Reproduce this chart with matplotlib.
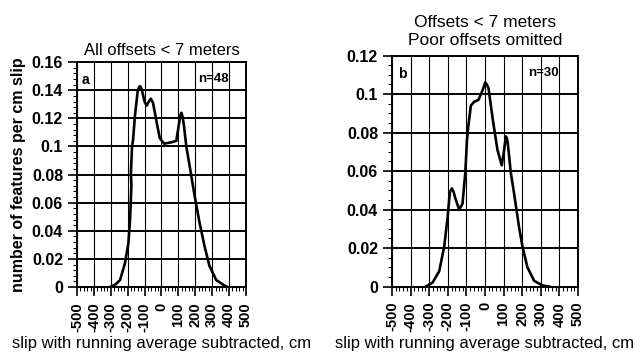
import matplotlib
matplotlib.use("Agg")
import matplotlib.pyplot as plt
from matplotlib.ticker import MultipleLocator, FormatStrFormatter

plt.rcParams["font.family"] = ["Liberation Sans", "DejaVu Sans"]

# Panel a: all offsets < 7 meters
slip_a = [-304, -270, -245, -216, -196, -186, -178, -181, -174, -168, -157, -141,
          -134, -127, -118, -100, -88, -75, -63, -50, -39, -25, -10, 16, 59, 88,
          102, 112, 118, 125, 133, 147, 167, 196, 225, 255, 284, 324, 373, 392]
dens_a = [0.0, 0.002, 0.005, 0.017, 0.031, 0.048, 0.072, 0.081, 0.100, 0.105,
          0.122, 0.139, 0.142, 0.143, 0.141, 0.132, 0.129, 0.132, 0.134, 0.131,
          0.124, 0.115, 0.106, 0.102, 0.103, 0.104, 0.115, 0.122, 0.124, 0.121,
          0.115, 0.100, 0.086, 0.065, 0.046, 0.029, 0.015, 0.005, 0.001, 0.0]

# Panel b: offsets < 7 meters, poor offsets omitted
slip_b = [-318, -282, -246, -219, -201, -189, -178, -168, -160, -139, -121, -106,
          -97, -90, -76, -58, -35, -13, 1, 10, 19, 40, 67, 90, 103, 112, 118,
          123, 139, 157, 183, 201, 228, 264, 309, 344]
dens_b = [0.0, 0.002, 0.008, 0.021, 0.036, 0.049, 0.051, 0.049, 0.046, 0.040,
          0.043, 0.059, 0.076, 0.083, 0.094, 0.096, 0.097, 0.102, 0.106, 0.105,
          0.103, 0.088, 0.071, 0.063, 0.071, 0.078, 0.077, 0.074, 0.059, 0.048,
          0.031, 0.021, 0.010, 0.003, 0.0005, 0.0]

x_ticks = [-500, -400, -300, -200, -100, 0, 100, 200, 300, 400, 500]


def style_axes(ax, ymax, ystep, yminor, tag, count):
    ax.set_xlim(-500, 500)
    ax.set_ylim(0, ymax)
    ax.set_xticks(x_ticks)
    ax.set_xticklabels([str(t) for t in x_ticks], rotation=90,
                       fontsize=10.5, fontweight="bold")
    ax.xaxis.set_minor_locator(MultipleLocator(20))
    ax.yaxis.set_major_locator(MultipleLocator(ystep))
    ax.yaxis.set_minor_locator(MultipleLocator(yminor))
    ax.yaxis.set_major_formatter(FormatStrFormatter("%g"))
    for lab in ax.get_yticklabels():
        lab.set_fontsize(11.5)
        lab.set_fontweight("bold")
    ax.tick_params(which="major", direction="out", length=6.5, width=1.2)
    ax.tick_params(axis="y", which="major", pad=3.5)
    ax.tick_params(axis="x", which="major", pad=4.5)
    ax.tick_params(which="minor", direction="out", length=3, width=0.8)
    ax.grid(True, axis="y", color="black", linewidth=1.4)
    ax.grid(True, axis="x", color="black", linewidth=0.8)
    for sp in ax.spines.values():
        sp.set_linewidth(1.4)
    ax.text(0.03, 0.95, tag, transform=ax.transAxes, fontsize=10,
            fontweight="bold", va="top", ha="left")
    ax.text(0.895, 0.95, count, transform=ax.transAxes, fontsize=9.5,
            fontweight="bold", va="top", ha="right")
    ax.set_xlabel("slip with running average subtracted, cm", fontsize=12,
                  labelpad=3)


fig = plt.figure(figsize=(6.4, 3.58), dpi=100)

ax1 = fig.add_axes([0.1203, 0.1983, 0.264, 0.628])
ax1.plot(slip_a, dens_a, color="black", linewidth=1.9)
style_axes(ax1, 0.16, 0.02, 0.004, "a", "n=48")
ax1.set_title("All offsets < 7 meters", fontsize=12, pad=5)
ax1.set_ylabel("number of features per cm slip", fontsize=11.5,
               fontweight="bold", labelpad=4)

ax2 = fig.add_axes([0.6125, 0.1997, 0.2906, 0.645])
ax2.plot(slip_b, dens_b, color="black", linewidth=1.9)
style_axes(ax2, 0.12, 0.02, 0.005, "b", "n=30")
ax2.set_title("Offsets < 7 meters\nPoor offsets omitted", fontsize=12.5,
              pad=7.5, linespacing=1.3)

fig.savefig("out.png", dpi=100)
